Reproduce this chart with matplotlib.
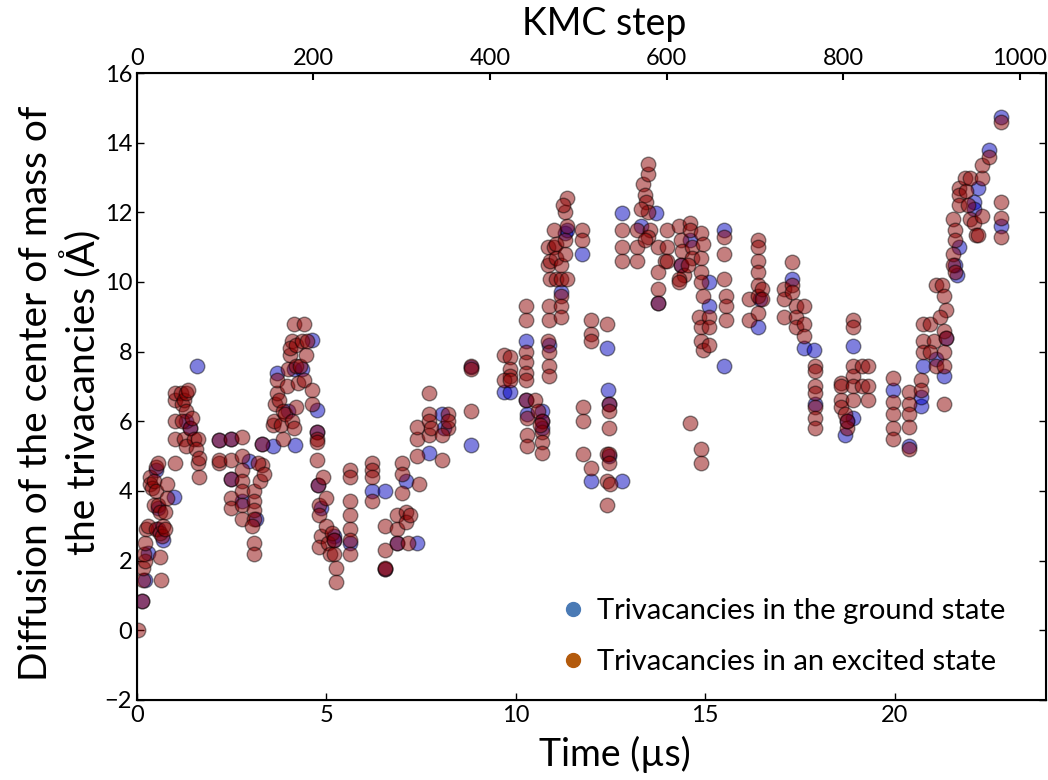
import numpy as np
import matplotlib.pyplot as plt
from matplotlib.lines import Line2D

plt.rcParams['font.family'] = ['Lato', 'DejaVu Sans']

# time (us) / displacement (A) of the trivacancy centre of mass, excited state
excited_t = [0.03, 0.12, 0.17, 0.15, 0.2, 0.18, 0.22, 0.25, 0.3,
             0.35, 0.35, 0.4, 0.45, 0.5, 0.5, 0.55, 0.45, 0.55, 0.6, 0.5, 0.6, 0.65, 0.6, 0.63, 0.7, 0.75, 0.75, 0.8, 0.8,
             1.0, 1.0, 1.0, 1.0, 1.0,
             1.15, 1.2, 1.25, 1.3, 1.35, 1.3, 1.2, 1.25, 1.3, 1.4, 1.45, 1.5, 1.6, 1.55, 1.6, 1.65, 1.65,
             2.16, 2.16, 2.16,
             2.47, 2.47, 2.47, 2.47, 2.47,
             2.78, 2.78, 2.78, 2.78, 2.78, 2.78, 2.78,
             3.09, 3.09, 3.09, 3.09, 3.05, 3.09, 3.09, 3.3, 3.3, 3.2, 3.25, 3.35,
             3.6, 3.62, 3.65, 3.7, 3.7, 3.75, 3.8, 3.85, 3.9, 3.95, 3.85, 4.0, 4.05, 4.1, 4.05, 4.15, 4.2, 4.2, 4.25, 4.3,
             4.35, 4.4, 4.45, 4.4, 4.5, 4.1, 4.15, 4.2,
             4.62, 4.62, 4.75, 4.75, 4.75, 4.75, 4.79, 4.8, 4.8, 4.85, 4.8, 4.9,
             5.0, 5.05, 5.1, 5.15, 5.2, 5.2, 5.25, 5.25, 5.0,
             5.63, 5.63, 5.63, 5.63, 5.63, 5.63, 5.63,
             6.2, 6.2, 6.2, 6.2,
             6.55, 6.55, 6.55, 6.55,
             6.86, 6.86, 6.86,
             7.0, 7.0, 7.0, 7.1, 7.1, 7.2, 7.15, 7.4, 7.4, 7.4, 7.45,
             7.7, 7.7, 7.7, 7.72, 7.75,
             8.2, 8.2, 8.05, 8.05, 8.2,
             8.83, 8.83, 8.83,
             9.7, 9.85, 9.85, 9.85, 9.7, 9.85,
             10.26, 10.26, 10.26, 10.26, 10.26, 10.26, 10.26, 10.3, 10.3, 10.3,
             10.5, 10.6, 10.7, 10.7, 10.7, 10.7, 10.65,
             10.87, 10.87, 10.85, 10.87, 10.87, 10.87,
             10.85, 10.85, 10.9, 11.05, 11.2, 11.35, 10.9, 11.0,
             11.0, 11.05, 11.05, 11.2, 11.3, 11.3, 11.35, 11.3, 11.35, 11.25,
             11.2, 11.2, 11.2, 11.75, 11.75,
             12.0, 12.0, 12.0, 12.4,
             11.77, 11.77, 11.77, 12.0,
             12.45, 12.45, 12.45, 12.4, 12.45, 12.45, 12.4, 12.5, 12.4,
             12.8, 12.8, 12.8, 13.2, 13.2, 13.2,
             13.35, 13.4, 13.45, 13.5, 13.3, 13.55, 13.5, 13.4, 13.5, 13.5,
             13.75, 13.95, 13.75, 13.75, 13.75,
             14.0, 14.0, 14.0,
             14.3, 14.35, 14.4, 14.35, 14.45, 14.3, 14.3,
             14.6, 14.6, 14.65, 14.65, 14.55,
             14.9, 14.9, 14.9, 14.9, 14.95, 14.95,
             14.85, 14.9, 14.9, 14.95, 15.1, 15.1, 15.1,
             15.5, 15.5, 15.5, 15.55, 15.55, 15.55,
             14.6, 14.9, 14.9,
             16.15, 16.15, 16.4, 16.4, 16.4, 16.4, 16.4, 16.4, 16.4, 16.5, 16.5,
             17.08, 17.08, 17.08,
             17.3, 17.3, 17.3, 17.4, 17.4, 17.4, 17.6, 17.6, 17.6,
             17.9, 17.9, 17.9, 17.9, 17.9, 17.9, 17.9,
             18.6, 18.6, 18.6, 18.6, 18.7, 18.75, 18.75,
             18.9, 18.9, 18.9, 18.9, 18.9, 18.9,
             19.15, 19.3, 19.15, 19.3, 19.3,
             19.97, 19.97, 19.97, 19.97, 19.97,
             20.37, 20.37, 20.37, 20.37, 20.37,
             20.7, 20.7, 20.75, 20.75, 20.75,
             20.95, 21.05, 20.95, 21.1,
             21.1, 21.25, 21.3, 21.35, 21.2, 21.3, 21.35, 21.3, 21.3, 21.3,
             21.55, 21.6, 21.6, 21.55, 21.55, 21.6,
             21.7, 21.7, 21.7,
             21.85, 21.9, 21.95, 22.0, 22.1,
             22.0, 22.3, 22.3,
             22.3, 22.15, 22.2,
             22.5,
             22.8, 22.8, 22.8, 22.8]
excited_d = [0.0, 0.85, 1.45, 1.8, 2.0, 2.2, 2.5, 2.9, 3.0,
             4.4, 4.2, 4.1, 4.3, 4.0, 4.7, 4.8, 3.6, 3.6, 3.4, 2.9, 2.8, 2.7, 2.1, 1.45, 3.0, 3.4, 2.9, 4.2, 3.8,
             4.8, 5.5, 6.0, 6.6, 6.8,
             6.8, 6.5, 6.6, 6.8, 6.9, 6.3, 6.0, 5.5, 5.3, 5.8, 6.1, 5.5, 5.5, 5.2, 4.8, 4.95, 4.4,
             5.45, 4.8, 4.9,
             5.5, 4.9, 4.35, 3.8, 3.5,
             5.55, 5.0, 4.6, 4.3, 4.0, 3.6, 3.2,
             4.0, 3.7, 3.45, 3.2, 3.0, 2.5, 2.2, 5.35, 4.75, 4.8, 4.3, 4.5,
             5.9, 6.0, 6.5, 6.8, 7.2, 6.6, 5.9, 6.3, 6.2, 7.0, 5.5, 7.5, 7.9, 8.3, 8.1, 8.8, 8.2, 7.6, 7.1, 7.6,
             8.3, 8.8, 7.9, 7.2, 8.3, 6.0, 5.8, 6.4,
             6.9, 6.5, 5.7, 5.5, 5.4, 4.9, 4.18, 3.6, 3.3, 2.7, 2.4, 4.4,
             3.0, 2.5, 2.2, 2.8, 2.6, 2.2, 1.8, 1.4, 3.8,
             4.6, 4.4, 3.7, 3.3, 2.9, 2.6, 2.2,
             4.8, 4.6, 4.4, 3.7,
             3.0, 2.3, 1.77, 1.8,
             3.3, 2.9, 2.5,
             4.8, 4.5, 3.95, 3.4, 3.1, 3.3, 2.5, 5.0, 5.5, 5.85, 4.2,
             6.8, 6.2, 6.0, 5.6, 5.8,
             6.2, 5.8, 5.6, 4.9, 6.0,
             7.6, 7.5, 6.3,
             7.9, 7.85, 7.5, 7.3, 7.2, 7.2,
             9.3, 8.9, 8.0, 7.7, 7.4, 7.2, 6.6, 6.1, 5.6, 5.3,
             6.6, 6.3, 6.0, 5.7, 5.4, 5.1, 5.9,
             9.3, 8.9, 8.3, 8.0, 7.6, 7.3,
             11.0, 10.5, 10.1, 10.1, 10.1, 10.1, 10.6, 11.0,
             11.5, 11.1, 10.7, 10.5, 10.8, 11.2, 11.6, 12.0, 12.4, 12.2,
             9.6, 9.3, 9.0, 11.5, 11.2,
             8.9, 8.5, 8.3, 8.8,
             6.4, 6.0, 5.05, 4.65,
             6.5, 6.3, 5.8, 5.05, 5.05, 4.8, 4.3, 4.2, 3.6,
             11.5, 11.0, 10.6, 11.5, 11.0, 10.6,
             12.8, 12.5, 12.3, 12.0, 12.1, 11.5, 11.3, 11.2, 13.1, 13.4,
             11.0, 10.6, 10.3, 9.8, 9.4,
             11.5, 11.0, 10.6,
             11.6, 11.2, 10.9, 10.5, 10.2, 10.1, 10.0,
             11.7, 11.5, 11.0, 10.7, 10.5,
             11.4, 10.7, 10.3, 10.0, 11.1, 9.6,
             9.0, 8.7, 8.3, 8.05, 9.0, 8.7, 8.2,
             11.3, 10.8, 10.1, 9.6, 9.3, 8.9,
             5.95, 5.2, 4.8,
             9.5, 8.9, 11.2, 11.0, 10.6, 10.3, 9.9, 9.6, 9.1, 9.8, 9.5,
             9.8, 9.5, 9.0,
             10.58, 9.9, 9.7, 9.3, 9.0, 8.7, 9.3, 8.8, 8.45,
             7.6, 7.45, 7.0, 6.8, 6.4, 6.1, 5.8,
             7.1, 7.0, 6.6, 6.4, 6.2, 5.8, 6.0,
             8.9, 8.7, 7.6, 7.3, 7.0, 6.6,
             7.6, 7.6, 7.0, 7.0, 6.6,
             7.25, 6.55, 6.2, 5.8, 5.5,
             6.85, 6.5, 6.2, 5.85, 5.2,
             7.2, 6.9, 8.8, 8.3, 8.0,
             8.8, 8.3, 8.0, 7.6,
             9.9, 9.9, 9.6, 9.2, 9.0, 8.6, 8.4, 8.0, 7.6, 6.5,
             11.8, 11.5, 11.2, 10.8, 10.5, 10.3,
             12.7, 12.5, 12.2,
             13.0, 12.6, 12.2, 11.8, 11.7,
             13.0, 13.0, 13.35,
             11.9, 11.35, 11.35,
             13.6,
             14.6, 12.3, 11.85, 11.3]

# ground state
ground_t = [0.12, 0.2, 0.28, 0.5, 0.55, 0.55, 0.7, 0.98, 1.4, 1.3, 1.58,
            2.16, 2.47, 2.47, 2.78, 2.95, 3.13, 3.3, 3.6, 3.7, 4.0, 4.18, 4.15, 4.35,
            4.62, 4.75, 4.75, 4.79, 4.85, 5.2, 5.2, 5.63, 6.2, 6.55, 6.55, 6.86,
            7.1, 7.4, 7.7, 8.05, 8.1, 8.83, 8.83, 9.7, 9.85,
            10.26, 10.26, 10.3, 10.7, 10.7, 10.7, 10.87, 11.3, 11.2, 11.35, 11.75,
            12.0, 12.4, 12.43, 12.45, 12.45, 12.8, 12.8, 13.3, 13.7, 13.75, 14.35,
            14.6, 15.1, 15.1, 15.5, 15.5, 16.4, 16.45, 17.3, 17.6, 17.87, 17.9,
            18.75, 18.7, 18.9, 18.9, 19.97, 20.37, 20.7, 20.7, 20.75,
            21.3, 21.35, 21.1, 21.6, 21.65, 21.7, 22.1, 22.1, 22.2, 22.5, 22.8, 22.8]
ground_d = [0.85, 1.45, 2.23, 4.6, 3.5, 2.9, 2.6, 3.83, 5.8, 6.0, 7.6,
            5.45, 5.5, 4.35, 3.7, 4.85, 3.2, 5.35, 5.3, 7.4, 6.3, 5.33, 7.5, 7.5,
            8.33, 6.33, 5.7, 4.18, 3.5, 2.7, 2.6, 2.5, 4.0, 4.0, 1.77, 2.5,
            4.3, 2.5, 5.1, 6.2, 5.8, 7.57, 5.33, 6.85, 6.85,
            8.3, 6.6, 6.2, 6.3, 6.0, 5.8, 8.2, 11.4, 9.7, 11.5, 10.8,
            4.3, 8.1, 6.9, 6.5, 5.0, 4.3, 11.98, 11.6, 11.98, 9.4, 10.5,
            11.2, 10.0, 9.3, 11.5, 7.6, 8.7, 9.5, 10.1, 8.1, 8.05, 6.5,
            6.0, 5.6, 8.15, 6.1, 6.9, 5.3, 6.45, 6.7, 7.6,
            7.3, 8.4, 7.8, 10.5, 10.2, 11.0, 12.3, 12.1, 12.7, 13.8, 14.75, 11.6]

step_ticks = [0, 200, 400, 600, 800, 1000]

fig = plt.figure(figsize=(10.48, 7.8), dpi=100)
ax = fig.add_axes([0.1307, 0.1026, 0.8674, 0.8038])

ax.scatter(ground_t, ground_d, s=110, c=[(0.0, 0.0, 0.75, 0.5)],
           edgecolors=[(0, 0, 0, 0.45)], linewidths=1, zorder=2)
ax.scatter(excited_t, excited_d, s=110, c=[(0.55, 0.0, 0.0, 0.5)],
           edgecolors=[(0, 0, 0, 0.45)], linewidths=1, zorder=3)

ax.set_xlim(0, 24)
ax.set_ylim(-2, 16)
ax.set_yticks(np.arange(-2, 17, 2))
ax.set_xticks([0, 5, 10, 15, 20])
ax.tick_params(direction='in', top=True, right=True, labelsize=17, length=5, width=1)
for s in ax.spines.values():
    s.set_linewidth(1.5)

ax.set_xlabel('Time (µs)', fontsize=27)
ax.xaxis.set_label_coords(0.526, -0.058)
ax.set_ylabel('Diffusion of the center of mass of\nthe trivacancies (Å)', fontsize=28, linespacing=1.2)
ax.yaxis.set_label_coords(-0.038, 0.49)

ax2 = ax.twiny()
ax2.set_xlim(0, 1030)
ax2.set_xticks(step_ticks)
ax2.tick_params(direction='in', labelsize=17, length=5, width=1.5, pad=3)
ax2.set_xlabel('KMC step', fontsize=27)
ax2.xaxis.set_label_coords(0.514, 1.06)

handles = [Line2D([], [], ls='', marker='o', ms=10, color='#4a7ab5', mec='#4a7ab5'),
           Line2D([], [], ls='', marker='o', ms=10, color='#b35a0c', mec='#b35a0c')]
ax.legend(handles, ['Trivacancies in the ground state', 'Trivacancies in an excited state'],
          loc='upper left', bbox_to_anchor=(558 / 1048, 1 - 598 / 780), bbox_transform=fig.transFigure,
          frameon=False, fontsize=21, handlelength=1.0, handletextpad=0.35,
          labelspacing=0.85, borderpad=0, borderaxespad=0)

fig.savefig('out.png', dpi=100)
